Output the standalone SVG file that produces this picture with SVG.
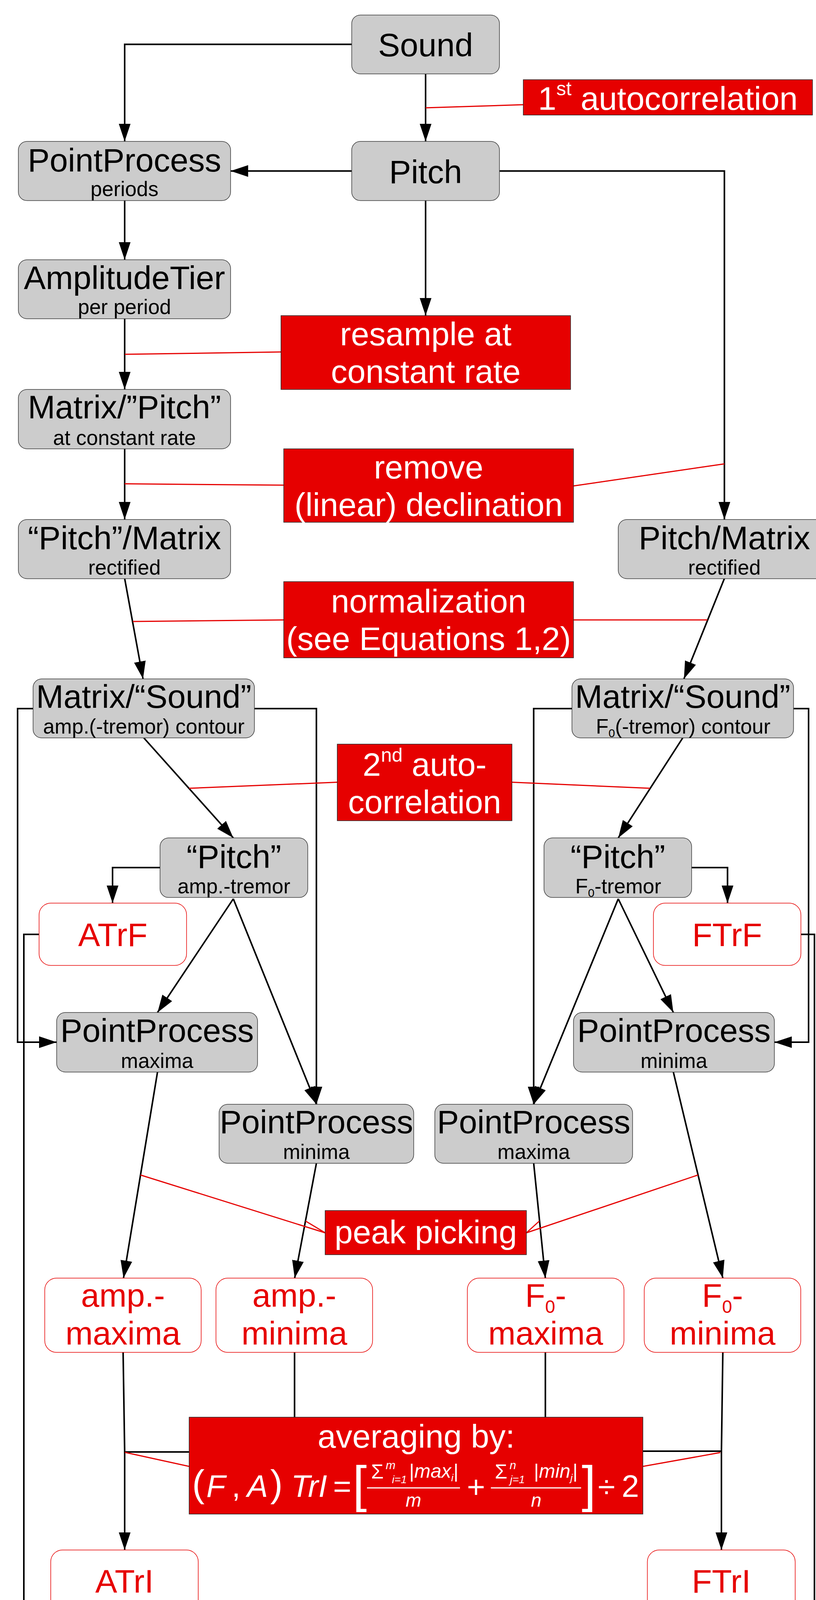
<svg xmlns="http://www.w3.org/2000/svg" width="2088" height="5136" viewBox="0 0 2088 5136">
<style>
text{font-family:"Liberation Sans",Arial,sans-serif}
.node rect{fill:#cccccc;stroke:#3a3a3a;stroke-width:1.5}
.fn rect{fill:#e60000;stroke:#2a2a2a;stroke-width:1.5}
.sv rect{fill:#ffffff;stroke:#e60000;stroke-width:1.5}
.big{font-size:84px}
.sm{font-size:53px}
.blk{fill:#000}
.wht{fill:#fff}
.red{fill:#e60000}
.mid{text-anchor:middle}
.c{stroke:#000;stroke-width:4;fill:none}
.r{stroke:#e60000;stroke-width:3;fill:none}
.it{font-style:italic}
</style>
<defs>
<marker id="ah" markerUnits="userSpaceOnUse" markerWidth="46" markerHeight="32" refX="45" refY="15" orient="auto">
<path d="M0,0 L45,15 L0,30 Z" fill="#000"/>
</marker>
</defs>
<rect x="0" y="0" width="2088" height="5136" fill="#fff"/>

<g id="connectors">
<g class="c" marker-end="url(#ah)">
<path d="M900,113.5 H319 V362"/>
<path d="M1089,189 V362"/>
<path d="M900,437.7 H590"/>
<path d="M1278,437.7 H1853.6 V1330"/>
<path d="M1089,513 V808"/>
<path d="M319,513 V665"/>
<path d="M319,816 V997"/>
<path d="M319,1149 V1330"/>
<path d="M319,1481 L366,1738"/>
<path d="M1853.6,1481 L1750,1738"/>
<path d="M368,1889 L597,2145"/>
<path d="M84.6,1814 H45 V2668 H145"/>
<path d="M651,1814 H809.6 V2827"/>
<path d="M409.5,2221 H288 V2312"/>
<path d="M597,2301 L403,2592"/>
<path d="M597,2301 L809.6,2827"/>
<path d="M100,2392 H61 V4652 H386"/>
<path d="M1747,1889 L1582,2145"/>
<path d="M1463.5,1814 H1365.6 V2827"/>
<path d="M2030.7,1814 H2069 V2668 H1981.4"/>
<path d="M1769.7,2221 H1861.6 V2312"/>
<path d="M1582,2301 L1365.6,2827"/>
<path d="M1582,2301 L1723,2592"/>
<path d="M2049.4,2392 H2084 V4652 H1724.4"/>
<path d="M403,2744.5 L316,3272"/>
<path d="M809.6,2978 L754,3272"/>
<path d="M1365.6,2978 L1395.5,3272"/>
<path d="M1723,2744.5 L1849.6,3272"/>
<path d="M315,3462 L319,3717 V3968"/>
<path d="M1849.6,3462 L1846,3715 V3968"/>
<path d="M318,4127 L574,4572"/>
<path d="M1846,4127 L1536.7,4572"/>
</g>
<g class="c">
<path d="M753.7,3462 V3717 H319"/>
<path d="M1395.5,3462 V3715 H1846"/>
</g>
<g class="r">
<path d="M1089,276 L1339,268"/>
<path d="M319.6,907 L719,901"/>
<path d="M319,1238.5 L726,1242"/>
<path d="M1467.5,1244 L1853.6,1187.5"/>
<path d="M340,1591 L726,1587"/>
<path d="M1467.5,1587 L1810,1587"/>
<path d="M484,2018 L863,2002.5"/>
<path d="M1310,2002.5 L1663,2018"/>
<path d="M832,3156 L359.5,3008"/>
<path d="M832,3156 L782,3126"/>
<path d="M1347,3156 L1786,3008"/>
<path d="M1347,3156 L1380,3126"/>
<path d="M319.6,3718 L484,3754"/>
<path d="M1645,3754 L1843,3718.6"/>
<path d="M749,4231.5 L66.6,4231.5"/>
<path d="M749,4235 L447,4351"/>
<path d="M1513.4,4231.5 L2088,4235"/>
<path d="M1513.4,4237 L1690,4351"/>
</g>
</g>

<g id="n-sound" class="node"><rect x="900" y="38.4" width="378" height="150.8" rx="22"/><text class="big blk mid" x="1089" y="143.7">Sound</text></g>
<g id="n-pp-periods" class="node"><rect x="47" y="362" width="543" height="151.5" rx="22"/><text class="big blk mid" x="318.5" y="438.8">PointProcess</text><text class="sm blk mid" x="318.5" y="501.8">periods</text></g>
<g id="n-pitch" class="node"><rect x="900" y="362" width="378" height="151.5" rx="22"/><text class="big blk mid" x="1089" y="469">Pitch</text></g>
<g id="n-amptier" class="node"><rect x="47" y="665" width="543" height="151" rx="22"/><text class="big blk mid" x="318.5" y="740.4">AmplitudeTier</text><text class="sm blk mid" x="318.5" y="803.5">per period</text></g>
<g id="n-matrix-pitch" class="node"><rect x="47" y="997" width="543" height="152" rx="22"/><text class="big blk mid" x="318.5" y="1071">Matrix/”Pitch”</text><text class="sm blk mid" x="318.5" y="1139">at constant rate</text></g>
<g id="n-pitch-matrix-l" class="node"><rect x="47" y="1330" width="543" height="151.5" rx="22"/><text class="big blk mid" x="318.5" y="1405.7">“Pitch”/Matrix</text><text class="sm blk mid" x="318.5" y="1470.5">rectified</text></g>
<g id="n-pitch-matrix-r" class="node"><rect x="1582" y="1330" width="543" height="151.5" rx="22"/><text class="big blk mid" x="1853.6" y="1405.7">Pitch/Matrix</text><text class="sm blk mid" x="1853.6" y="1470.5">rectified</text></g>
<g id="n-msound-l" class="node"><rect x="84.6" y="1738" width="566.4" height="151" rx="22"/><text class="big blk mid" x="368" y="1812">Matrix/“Sound”</text><text class="sm blk mid" x="368" y="1878">amp.(-tremor) contour</text></g>
<g id="n-msound-r" class="node"><rect x="1463.5" y="1738" width="567" height="151" rx="22"/><text class="big blk mid" x="1747" y="1812">Matrix/“Sound”</text><text class="sm blk mid" x="1748" y="1878">F<tspan font-size="30" dy="9">0</tspan><tspan dy="-9">(-tremor) contour</tspan></text></g>
<g id="n-pitch-amp" class="node"><rect x="409.5" y="2145" width="378" height="152.6" rx="22"/><text class="big blk mid" x="598.5" y="2222">“Pitch”</text><text class="sm blk mid" x="598.5" y="2286.6">amp.-tremor</text></g>
<g id="n-pitch-f0" class="node"><rect x="1392" y="2145" width="377.7" height="152.6" rx="22"/><text class="big blk mid" x="1581" y="2222">“Pitch”</text><text class="sm blk mid" x="1582" y="2286.6">F<tspan font-size="30" dy="9">0</tspan><tspan dy="-9">-tremor</tspan></text></g>
<g id="n-pp-max-l" class="node"><rect x="145" y="2592" width="514" height="152.5" rx="22"/><text class="big blk mid" x="402" y="2666.7">PointProcess</text><text class="sm blk mid" x="402" y="2733.6">maxima</text></g>
<g id="n-pp-min-l" class="node"><rect x="560.6" y="2827" width="498" height="151" rx="22"/><text class="big blk mid" x="809.6" y="2901">PointProcess</text><text class="sm blk mid" x="809.6" y="2966.7">minima</text></g>
<g id="n-pp-min-r" class="node"><rect x="1467.5" y="2592" width="514" height="152.5" rx="22"/><text class="big blk mid" x="1724.5" y="2666.7">PointProcess</text><text class="sm blk mid" x="1724.5" y="2733.6">minima</text></g>
<g id="n-pp-max-r" class="node"><rect x="1112.6" y="2827" width="506" height="151" rx="22"/><text class="big blk mid" x="1365.6" y="2901">PointProcess</text><text class="sm blk mid" x="1365.6" y="2966.7">maxima</text></g>

<g id="n-atrf" class="sv"><rect x="100" y="2312" width="377.4" height="159.5" rx="30"/><text class="big red mid" x="288.7" y="2422">ATrF</text></g>
<g id="n-ftrf" class="sv"><rect x="1672" y="2312" width="377.4" height="159.5" rx="30"/><text class="big red mid" x="1860.7" y="2422">FTrF</text></g>
<g id="n-amp-max" class="sv"><rect x="114.5" y="3272" width="400.2" height="190" rx="30"/><text class="big red mid" x="314.6" y="3345">amp.-</text><text class="big red mid" x="314.6" y="3442">maxima</text></g>
<g id="n-amp-min" class="sv"><rect x="552.6" y="3272" width="400.8" height="190" rx="30"/><text class="big red mid" x="753" y="3345">amp.-</text><text class="big red mid" x="753" y="3442">minima</text></g>
<g id="n-f0-max" class="sv"><rect x="1195.8" y="3272" width="400.8" height="190" rx="30"/><text class="big red mid" x="1396.2" y="3345">F<tspan font-size="46" dy="16">0</tspan><tspan dy="-16">-</tspan></text><text class="big red mid" x="1396.2" y="3442">maxima</text></g>
<g id="n-f0-min" class="sv"><rect x="1648.5" y="3272" width="400.5" height="190" rx="30"/><text class="big red mid" x="1848.8" y="3345">F<tspan font-size="46" dy="16">0</tspan><tspan dy="-16">-</tspan></text><text class="big red mid" x="1848.8" y="3442">minima</text></g>
<g id="n-atri" class="sv"><rect x="129.8" y="3968" width="377.5" height="158.7" rx="30"/><text class="big red mid" x="318.5" y="4077">ATrI</text></g>
<g id="n-ftri" class="sv"><rect x="1656.5" y="3968" width="378.2" height="158.7" rx="30"/><text class="big red mid" x="1845.6" y="4077">FTrI</text></g>
<g id="n-atrp" class="sv"><rect x="386" y="4572" width="378.3" height="160" rx="30"/><text class="big red mid" x="575" y="4681">ATrP</text></g>
<g id="n-ftrp" class="sv"><rect x="1347" y="4572" width="377.4" height="160" rx="30"/><text class="big red mid" x="1535.7" y="4681">FTrP</text></g>

<g id="f-autocorr1" class="fn"><rect x="1339" y="204" width="740" height="90.5"/><text class="big wht mid" x="1709" y="280.8">1<tspan font-size="50" dy="-37">st</tspan><tspan dy="37"> autocorrelation</tspan></text></g>
<g id="f-resample" class="fn"><rect x="719" y="808" width="741" height="189"/><text class="big wht mid" x="1089.5" y="884">resample at</text><text class="big wht mid" x="1089.5" y="980">constant rate</text></g>
<g id="f-remove" class="fn"><rect x="726" y="1149" width="741.5" height="188"/><text class="big wht mid" x="1096.7" y="1224.7">remove</text><text class="big wht mid" x="1096.7" y="1320.7">(linear) declination</text></g>
<g id="f-normalization" class="fn"><rect x="726" y="1489" width="741.5" height="195"/><text class="big wht mid" x="1096.7" y="1567.6">normalization</text><text class="big wht mid" x="1096.7" y="1663.6">(see Equations 1,2)</text></g>
<g id="f-autocorr2" class="fn"><rect x="863" y="1905" width="447" height="196"/><text class="big wht mid" x="1086.5" y="1986">2<tspan font-size="50" dy="-36">nd</tspan><tspan dy="36"> auto-</tspan></text><text class="big wht mid" x="1086.5" y="2082">correlation</text></g>
<g id="f-peak" class="fn"><rect x="832" y="3099" width="515" height="113"/><text class="big wht mid" x="1089.5" y="3183">peak picking</text></g>
<g id="f-averaging" class="fn"><rect x="484" y="3628" width="1161" height="248"/>
<text class="big wht mid" x="1065" y="3706">averaging by:</text>
<g class="wht">
<text class="mid" font-size="96" x="507.5" y="3831">(</text>
<text class="mid it" font-size="80" x="552.5" y="3832">F</text>
<text class="mid" font-size="80" x="604" y="3832">,</text>
<text class="mid it" font-size="80" x="659" y="3832">A</text>
<text class="mid" font-size="96" x="707.5" y="3831">)</text>
<text class="mid it" font-size="80" x="791" y="3832">TrI</text>
<text class="mid" font-size="80" x="875.5" y="3832">=</text>
<text class="mid" font-size="130" x="920.5" y="3844">[</text>
<text class="mid" font-size="52" x="965.5" y="3785">Σ</text>
<text class="it" font-size="30" x="987" y="3761">m</text>
<text class="it" font-size="28" x="1003" y="3797">i=1</text>
<text font-size="50" x="1047" y="3783">|<tspan class="it">max</tspan><tspan class="it" font-size="26" dy="9">i</tspan><tspan dy="-9">|</tspan></text>
<line x1="939" y1="3809" x2="1177" y2="3809" stroke="#fff" stroke-width="3"/>
<text class="mid it" font-size="48" x="1058" y="3857">m</text>
<text class="mid" font-size="80" x="1218" y="3834">+</text>
<text class="mid" font-size="52" x="1282" y="3785">Σ</text>
<text class="it" font-size="30" x="1304" y="3761">n</text>
<text class="it" font-size="28" x="1305" y="3797">j=1</text>
<text font-size="50" x="1366" y="3783">|<tspan class="it">min</tspan><tspan class="it" font-size="26" dy="9">j</tspan><tspan dy="-9">|</tspan></text>
<line x1="1256" y1="3809" x2="1487" y2="3809" stroke="#fff" stroke-width="3"/>
<text class="mid it" font-size="48" x="1372" y="3857">n</text>
<text class="mid" font-size="130" x="1506.5" y="3844">]</text>
<text class="mid" font-size="80" x="1552" y="3834">÷</text>
<text class="mid" font-size="80" x="1613" y="3832">2</text>
</g>
</g>
<g id="f-indexing" class="fn"><rect x="749" y="4134" width="764.4" height="198"/><text class="big wht mid" x="1131" y="4213.4">indexing</text><text class="big wht mid" x="1131" y="4309.4">(see Equations 3, 4)</text></g>

<g id="legend">
<text class="blk" font-size="94" x="68.6" y="4964">Legend:</text>
<g id="legend-object" class="node"><rect x="46.6" y="5004" width="529.4" height="151" rx="22"/><text class="big blk mid" x="311.3" y="5080">PraatObject</text><text class="sm blk mid" x="311.3" y="5144">specification</text></g>
<g id="legend-function" class="fn"><rect x="789.6" y="5004" width="587.4" height="160"/><text class="big wht mid" x="1083.3" y="5109">function</text></g>
<g id="legend-scalar" class="sv"><rect x="1565" y="5004" width="560" height="160" rx="30"/><text class="big red" x="1606.6" y="5109">scalar/vector</text></g>
</g>
</svg>
